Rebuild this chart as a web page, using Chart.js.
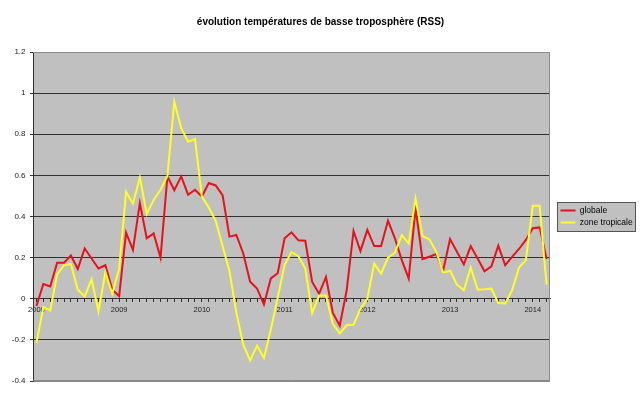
<!DOCTYPE html>
<html>
<head>
<meta charset="utf-8">
<script src="https://cdn.jsdelivr.net/npm/chart.js@4/dist/chart.umd.min.js"></script>
<style>
  html, body { margin: 0; padding: 0; background: #ffffff; }
  #wrap { width: 640px; height: 398px; }
</style>
</head>
<body>
<div id="wrap"><canvas id="c" width="640" height="398"></canvas></div>
<script>
const chartTitle = 'évolution températures de basse troposphère (RSS)';
const seriesNames = ['globale', 'zone tropicale'];
const categories = [
  '2008-01','2008-02','2008-03','2008-04','2008-05','2008-06','2008-07','2008-08','2008-09','2008-10','2008-11','2008-12',
  '2009-01','2009-02','2009-03','2009-04','2009-05','2009-06','2009-07','2009-08','2009-09','2009-10','2009-11','2009-12',
  '2010-01','2010-02','2010-03','2010-04','2010-05','2010-06','2010-07','2010-08','2010-09','2010-10','2010-11','2010-12',
  '2011-01','2011-02','2011-03','2011-04','2011-05','2011-06','2011-07','2011-08','2011-09','2011-10','2011-11','2011-12',
  '2012-01','2012-02','2012-03','2012-04','2012-05','2012-06','2012-07','2012-08','2012-09','2012-10','2012-11','2012-12',
  '2013-01','2013-02','2013-03','2013-04','2013-05','2013-06','2013-07','2013-08','2013-09','2013-10','2013-11','2013-12',
  '2014-01','2014-02','2014-03'
];
const globale = [
  -0.035, 0.072, 0.060, 0.175, 0.175, 0.210, 0.145, 0.245, 0.196, 0.147, 0.163, 0.044,
  0.013, 0.322, 0.237, 0.465, 0.294, 0.318, 0.200, 0.595, 0.528, 0.595, 0.506, 0.530,
  0.497, 0.563, 0.551, 0.504, 0.302, 0.310, 0.220, 0.083, 0.050, -0.028, 0.099, 0.124,
  0.294, 0.323, 0.284, 0.282, 0.082, 0.024, 0.106, -0.069, -0.131, 0.040, 0.330, 0.232,
  0.335, 0.256, 0.256, 0.380, 0.294, 0.188, 0.098, 0.440, 0.193, 0.204, 0.217, 0.136,
  0.290, 0.229, 0.167, 0.256, 0.196, 0.134, 0.158, 0.258, 0.163, 0.204, 0.242, 0.286,
  0.343, 0.347, 0.193
];
const tropicale = [
  -0.215, -0.040, -0.057, 0.118, 0.163, 0.168, 0.044, 0.011, 0.095, -0.062, 0.130, 0.024,
  0.147, 0.520, 0.462, 0.590, 0.413, 0.480, 0.530, 0.597, 0.958, 0.830, 0.764, 0.777,
  0.497, 0.444, 0.379, 0.257, 0.135, -0.068, -0.223, -0.300, -0.228, -0.288, -0.150, 0.005,
  0.165, 0.227, 0.207, 0.147, -0.070, 0.016, 0.016, -0.122, -0.168, -0.129, -0.127, -0.049,
  0.000, 0.171, 0.122, 0.200, 0.224, 0.309, 0.269, 0.487, 0.305, 0.289, 0.229, 0.127,
  0.136, 0.069, 0.041, 0.152, 0.044, 0.046, 0.049, -0.021, -0.023, 0.041, 0.152, 0.188,
  0.452, 0.452, 0.069
];
const yMin = -0.4, yMax = 1.2, yStep = 0.2;

const FONT = "'Liberation Sans', Arial, sans-serif";

const decorPlugin = {
  id: 'decor',
  beforeDraw(chart) {
    const ctx = chart.ctx;
    const a = chart.chartArea;
    ctx.save();
    ctx.fillStyle = '#ffffff';
    ctx.fillRect(0, 0, chart.width, chart.height);
    ctx.fillStyle = '#c0c0c0';
    ctx.fillRect(a.left, a.top, a.right - a.left, a.bottom - a.top);
    // legend frame
    const lg = chart.legend;
    if (lg && lg.legendHitBoxes && lg.legendHitBoxes.length) {
      const hb = lg.legendHitBoxes;
      let l = Infinity, t = Infinity, r = -Infinity, b = -Infinity;
      hb.forEach(h => {
        l = Math.min(l, h.left); t = Math.min(t, h.top);
        r = Math.max(r, h.left + h.width); b = Math.max(b, h.top + h.height);
      });
      const x0 = Math.round(l - 4) + 0.5, y0 = Math.round(t - 4) + 0.5;
      const x1 = Math.round(r + 2) + 0.5, y1 = Math.round(b + 4) + 0.5;
      ctx.fillStyle = '#c0c0c0';
      ctx.fillRect(x0, y0, x1 - x0, y1 - y0);
      ctx.strokeStyle = '#555555';
      ctx.lineWidth = 1;
      ctx.strokeRect(x0, y0, x1 - x0, y1 - y0);
    }
    ctx.restore();
  },
  beforeDatasetsDraw(chart) {
    const ctx = chart.ctx;
    const a = chart.chartArea;
    ctx.save();
    ctx.strokeStyle = '#8a8a8a';
    ctx.lineWidth = 1;
    ctx.beginPath();
    const r = Math.round(a.right) - 0.5;
    ctx.moveTo(a.left, Math.round(a.top) + 0.5);
    ctx.lineTo(r, Math.round(a.top) + 0.5);
    ctx.lineTo(r, Math.round(a.bottom) - 0.5);
    ctx.lineTo(a.left, Math.round(a.bottom) - 0.5);
    ctx.stroke();
    ctx.restore();
  }
};

new Chart(document.getElementById('c'), {
  type: 'line',
  data: {
    labels: categories,
    datasets: [
      {
        label: seriesNames[0],
        data: globale,
        borderColor: '#e8101a',
        backgroundColor: '#e8101a',
        borderWidth: 2,
        pointRadius: 0,
        tension: 0,
        fill: false,
        yAxisID: 'y',
        order: 1
      },
      {
        label: seriesNames[1],
        data: tropicale,
        borderColor: '#ffff22',
        backgroundColor: '#ffff22',
        borderWidth: 2,
        pointRadius: 0,
        tension: 0,
        fill: false,
        yAxisID: 'y',
        order: 0
      }
    ]
  },
  options: {
    responsive: false,
    animation: false,
    devicePixelRatio: 1,
    layout: { padding: { left: 7, right: 6, top: 0, bottom: 17 } },
    plugins: {
      title: {
        display: true,
        text: chartTitle,
        color: '#000000',
        font: { family: FONT, size: 10, weight: 'bold' },
        padding: { top: 16.5, bottom: 23.5 }
      },
      legend: {
        display: true,
        position: 'right',
        fullSize: false,
        align: 'center',
        maxWidth: 77,
        labels: {
          usePointStyle: true,
          pointStyle: 'line',
          pointStyleWidth: 15,
          boxWidth: 15,
          padding: 3.5,
          color: '#000000',
          font: { family: FONT, size: 8.5 },
          sort: (a, b) => a.datasetIndex - b.datasetIndex
        }
      },
      tooltip: { enabled: false }
    },
    scales: {
      x: {
        type: 'category',
        position: { y: 0 },
        offset: true,
        grid: {
          display: true,
          drawOnChartArea: false,
          drawTicks: true,
          tickLength: 3,
          offset: false,
          color: '#333333',
          lineWidth: 1
        },
        border: { display: true, color: '#333333', width: 1 },
        ticks: {
          autoSkip: false,
          maxRotation: 0,
          minRotation: 0,
          padding: 3.5,
          color: '#222222',
          font: { family: FONT, size: 7.5 },
          callback: function (v, i) {
            const c = categories[i];
            return c.endsWith('-01') ? c.slice(0, 4) : '';
          }
        }
      },
      y: {
        type: 'linear',
        position: 'left',
        min: yMin,
        max: yMax,
        ticks: {
          stepSize: yStep,
          padding: 4.5,
          color: '#222222',
          font: { family: FONT, size: 8 },
          callback: v => String(Math.round(v * 10) / 10)
        },
        grid: {
          color: c => (c.tick && (c.tick.value > yMax - 0.01 || c.tick.value < yMin + 0.01)) ? '#8a8a8a' : '#303030',
          tickColor: '#303030',
          tickLength: 3,
          drawTicks: true,
          lineWidth: 1
        },
        border: { display: true, color: '#303030', width: 1 },
        afterFit: s => { s.width = 26; }
      },
      y2: {
        type: 'linear',
        position: 'right',
        display: true,
        grid: { display: false, drawTicks: false },
        border: { display: false },
        ticks: { display: false },
        afterFit: s => { s.width = 7; }
      }
    }
  },
  plugins: [decorPlugin]
});
</script>
</body>
</html>
